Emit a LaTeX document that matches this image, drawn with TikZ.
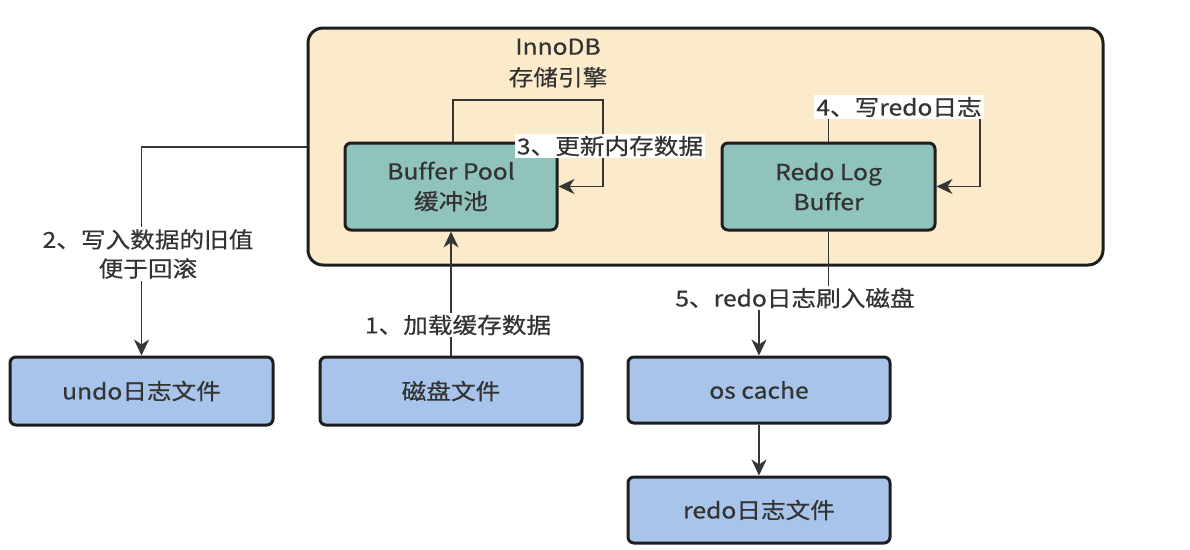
\documentclass[tikz,border=0pt]{standalone}
\usepackage{fontspec}
\setmainfont{Noto Sans CJK SC}[FakeStretch=1.12, FakeBold=0.5, Ligatures=NoCommon]
\usetikzlibrary{arrows.meta}
\definecolor{peach}{HTML}{FCEBCB}
\definecolor{teal1}{HTML}{8FC3BC}
\definecolor{blue1}{HTML}{A8C4EA}
\definecolor{txt}{HTML}{333333}
\definecolor{edge}{HTML}{1E1E1E}
\tikzset{
  mainbox/.style={draw=edge, line width=3pt, fill=peach, rounded corners=15pt},
  tealbox/.style={draw=edge, line width=3pt, fill=teal1, rounded corners=6pt, align=center, text=txt, font=\fontsize{22}{30}\selectfont},
  bluebox/.style={draw=edge, line width=3pt, fill=blue1, rounded corners=6pt, align=center, text=txt, font=\fontsize{22}{30}\selectfont},
  lbl/.style={fill=white, inner sep=2pt, align=center, text=txt, font=\fontsize{22}{29}\selectfont},
  arr/.style={draw=edge!90, line width=1.8pt, -{Stealth[length=16pt,width=15pt,inset=5pt]}},
}
\begin{document}
\begin{tikzpicture}[x=1pt,y=-1pt]
\useasboundingbox[fill=white] (0,0) rectangle (1190,549);
% main box
\node[mainbox, minimum width=795pt, minimum height=237pt, inner sep=0pt] (inno) at (705.5,146.5) {};
\node[align=center, text=txt, font=\fontsize{22}{31}\selectfont] (innolbl) at (558,63) {InnoDB\\存储引擎};
% boxes
\node[tealbox, minimum width=212pt, minimum height=87pt, inner sep=0pt] (buf) at (451,186.5) {Buffer Pool\\缓冲池};
\node[tealbox, minimum width=213pt, minimum height=87pt, inner sep=0pt] (redo) at (828.5,186.5) {Redo Log\\Buffer};
\node[bluebox, minimum width=263pt, minimum height=68pt, inner sep=0pt] (undo) at (141.5,391) {undo日志文件};
\node[bluebox, minimum width=262pt, minimum height=68pt, inner sep=0pt] (disk) at (451,391) {磁盘文件};
\node[bluebox, minimum width=262pt, minimum height=66pt, inner sep=0pt] (osc) at (759,390) {os cache};
\node[bluebox, minimum width=262pt, minimum height=66pt, inner sep=0pt] (rfile) at (759,510) {redo日志文件};
% coordinates
\coordinate (l3a) at (453,100);
\coordinate (l3b) at (603,100);
\coordinate (l4) at (980,107);
\coordinate (c2) at (143,147);
\coordinate (c5) at (829,298);
% connectors
\draw[arr] (buf.north -| l3a) -- (l3a) -- (l3b) |- (buf.east);
\draw[arr] (redo.north) |- (l4) |- (redo.east);
\draw[arr] (inno.west |- c2) -| (undo.north);
\draw[arr] (disk.north) -- (buf.south);
\draw[arr] (redo.south) -- (redo.south |- c5) -| (osc.north);
\draw[arr] (osc.south) -- (rfile.north);
% labels
\node[lbl] (t3) at (610,146) {3、更新内存数据};
\node[lbl] (t4) at (899,107) {4、写redo日志};
\node[lbl] (t2) at (148,254) {2、写入数据的旧值\\便于回滚};
\node[lbl] (t1) at (458,325) {1、加载缓存数据};
\node[lbl] (t5) at (795,298) {5、redo日志刷入磁盘};
\end{tikzpicture}
\end{document}
